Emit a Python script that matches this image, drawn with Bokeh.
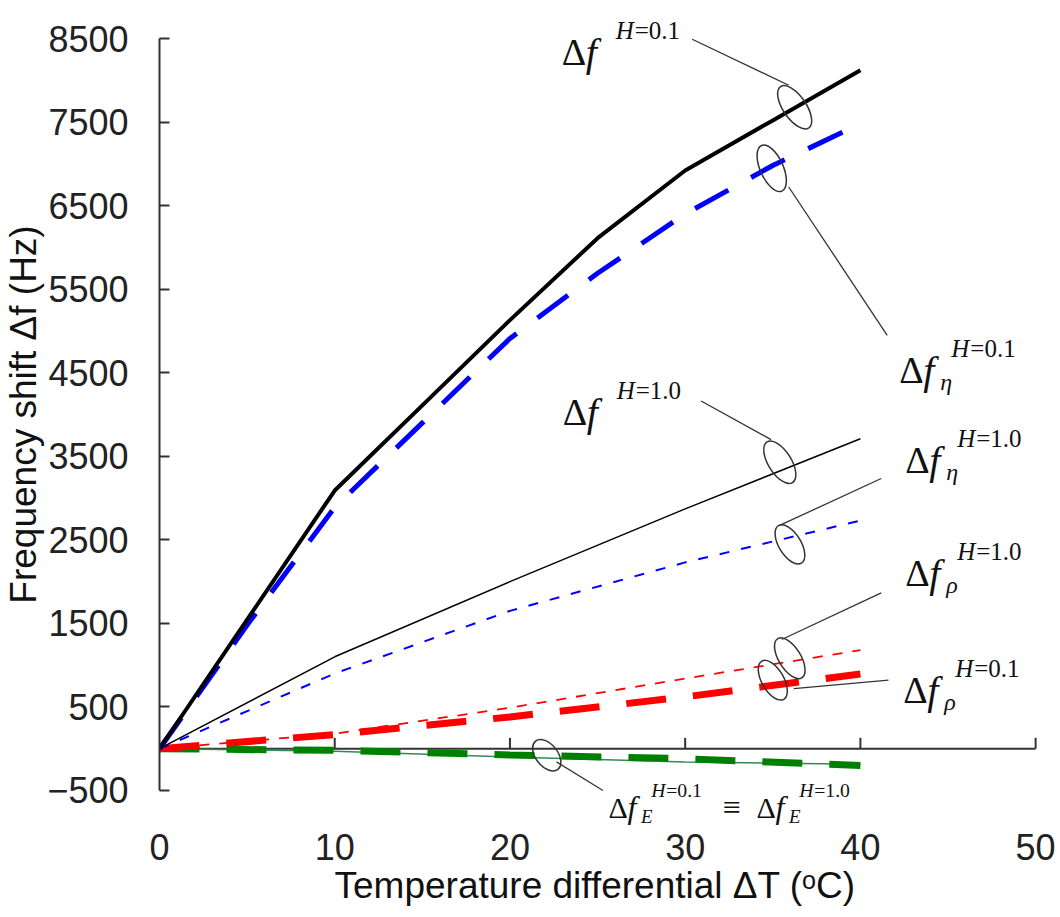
from bokeh.plotting import figure
from bokeh.models import Range1d, FixedTicker, Label, Title
from bokeh.embed import file_html
from bokeh.resources import INLINE

# ---------------- data ----------------
dT_fine = [0, 5, 10, 15, 20, 25, 30, 35, 40]
df_H01 = [0, 1545, 3090, 4110, 5130, 6110, 6920, 7520, 8120]
dfeta_H01 = [0, 1480, 2890, 3900, 4910, 5690, 6400, 6980, 7480]

dT = [0, 10, 20, 30, 40]
df_H10 = [0, 1100, 2000, 2870, 3710]
dfeta_H10 = [0, 900, 1650, 2230, 2730]
dfrho_H10 = [0, 180, 490, 840, 1180]
dfrho_H01 = [0, 170, 380, 620, 895]
dfE_H01 = [0, -20, -75, -120, -200]
dfE_H10 = [0, -30, -100, -160, -185]

x_ticks = [0, 10, 20, 30, 40, 50]
y_ticks = [-500, 500, 1500, 2500, 3500, 4500, 5500, 6500, 7500, 8500]

x_title = "Temperature differential \u0394T (\u1d52C)"
y_title = "Frequency shift \u0394f (Hz)"

# annotation rings (data coords)
ring_x = [36.25, 34.94, 35.40, 35.98, 35.97, 35.0, 22.1]
ring_y = [7677, 6947, 3429, 2445, 1083, 820, -78]
ring_w = [50, 50, 48, 44, 46, 44, 36]
ring_h = [23, 23, 23, 22, 22, 22, 22]
ring_a = [-0.97, -1.15, -1.01, -1.02, -1.02, -1.05, -0.9]

# leader lines (data coords)
lead_x0 = [30.40, 35.91, 30.91, 41.19, 41.19, 41.6, 22.66]
lead_y0 = [8491, 6723, 4162, 3234, 1865, 820, -158]
lead_x1 = [35.91, 41.53, 34.90, 35.42, 35.51, 36.2, 25.31]
lead_y1 = [7941, 4948, 3700, 2675, 1307, 720, -500]

# ---------------- figure ----------------
# the frame is extended a little beyond the axes so that the labels fit inside
y_pad = 455
x_pad = 1.42
p = figure(width=1060, height=917,
           x_range=Range1d(x_ticks[0], x_ticks[-1] + x_pad),
           y_range=Range1d(y_ticks[0] - y_pad, y_ticks[-1] + y_pad),
           output_backend="svg", toolbar_location=None,
           min_border_left=155, min_border_right=0,
           min_border_top=0, min_border_bottom=89,
           y_axis_label=y_title)
p.outline_line_color = None
p.grid.visible = False
p.background_fill_color = "white"
p.border_fill_color = "white"

SANS = "Liberation Sans"
SERIF = "Liberation Serif"

xa = p.xaxis[0]
xa.ticker = FixedTicker(ticks=x_ticks)
xa.axis_line_color = None
xa.major_tick_line_color = None
xa.minor_tick_line_color = None
xa.major_tick_out = 0
xa.major_tick_in = 0
xa.major_label_standoff = 5
xa.major_label_text_font = SANS
xa.major_label_text_font_size = "36px"
xa.major_label_text_color = "#222222"

p.add_layout(Title(text=x_title, align="left", offset=175, standoff=0,
                   text_font=SANS, text_font_size="37px", text_font_style="normal",
                   text_color="#111111"), "below")

ya = p.yaxis[0]
ya.ticker = FixedTicker(ticks=y_ticks)
ya.bounds = (y_ticks[0], y_ticks[-1])
ya.axis_line_color = "#333333"
ya.axis_line_width = 2
ya.major_tick_line_color = "#333333"
ya.major_tick_line_width = 2
ya.major_tick_in = 10
ya.major_tick_out = 0
ya.minor_tick_line_color = None
ya.major_label_standoff = 31
ya.major_label_overrides = {-500: "\u2212500"}
ya.major_label_text_font = SANS
ya.major_label_text_font_size = "36px"
ya.major_label_text_color = "#222222"
ya.axis_label_text_font = SANS
ya.axis_label_text_font_size = "37px"
ya.axis_label_text_font_style = "normal"
ya.axis_label_text_color = "#111111"
ya.axis_label_standoff = 0

# x axis line at y = 0 with upward ticks
p.segment(x0=[x_ticks[0]], y0=[0], x1=[x_ticks[-1]], y1=[0],
          line_color="#333333", line_width=2)
tick_len = 130
p.segment(x0=x_ticks[1:], y0=[0] * (len(x_ticks) - 1),
          x1=x_ticks[1:], y1=[tick_len] * (len(x_ticks) - 1),
          line_color="#333333", line_width=2)

# ---------------- series ----------------
p.line(dT, dfE_H10, line_color="#2E8B57", line_width=1.5)
p.line(dT, dfE_H01, line_color="#008000", line_width=7, line_dash="40 27")
p.line(dT, dfrho_H10, line_color="#FF0000", line_width=1.8, line_dash="10 10")
p.line(dT, dfrho_H01, line_color="#FF0000", line_width=7, line_dash="40 27")
p.line(dT, dfeta_H10, line_color="#0000FF", line_width=2, line_dash="10 12")
p.line(dT, df_H10, line_color="#000000", line_width=1.5)
p.line(dT_fine, dfeta_H01, line_color="#0000FF", line_width=5, line_dash="38 26")
p.line(dT_fine, df_H01, line_color="#000000", line_width=4)

# ---------------- annotations ----------------
p.ellipse(x=ring_x, y=ring_y, width=ring_w, height=ring_h, angle=ring_a,
          width_units="screen", height_units="screen",
          fill_color=None, line_color="#333333", line_width=1.5)
p.segment(x0=lead_x0, y0=lead_y0, x1=lead_x1, y1=lead_y1,
          line_color="#333333", line_width=1.3)


def math_label(x, y, sup_val, sub=None, size=38, sup_dx=52, dx0=0):
    k = size / 38.0
    out = []
    out.append(Label(x=x, y=y, x_offset=dx0, text="\u0394", text_font=SERIF,
                     text_font_size=f"{size}px", text_baseline="alphabetic",
                     text_color="#111111"))
    out.append(Label(x=x, y=y, x_offset=dx0 + 24 * k, text="f", text_font=SERIF,
                     text_font_style="italic", text_font_size=f"{size + 2}px",
                     text_baseline="alphabetic", text_color="#111111"))
    ss = 25 * k
    out.append(Label(x=x, y=y, x_offset=dx0 + sup_dx * k, y_offset=22 * k, text="H",
                     text_font=SERIF, text_font_style="italic",
                     text_font_size=f"{ss:.1f}px", text_baseline="alphabetic",
                     text_color="#111111"))
    out.append(Label(x=x, y=y, x_offset=dx0 + (sup_dx + 19) * k, y_offset=22 * k,
                     text=sup_val, text_font=SERIF, text_font_size=f"{ss:.1f}px",
                     text_baseline="alphabetic", text_color="#111111"))
    if sub:
        out.append(Label(x=x, y=y, x_offset=dx0 + 41 * k, y_offset=-12 * k, text=sub,
                         text_font=SERIF, text_font_style="italic",
                         text_font_size=f"{24 * k:.1f}px", text_baseline="alphabetic",
                         text_color="#111111"))
    for lab in out:
        p.add_layout(lab)


math_label(22.95, 8335, "=0.1", sup_dx=54)
math_label(42.22, 4530, "=0.1", sub="\u03b7")
math_label(23.01, 4027, "=1.0", sup_dx=54)
math_label(42.56, 3453, "=1.0", sub="\u03b7")
math_label(42.56, 2100, "=1.0", sub="\u03c1")
math_label(42.44, 700, "=0.1", sub="\u03c1")
# equivalence label for E
math_label(25.63, -700, "=0.1", sub="E", size=30, sup_dx=54)
p.add_layout(Label(x=25.63, y=-700, x_offset=114, text="\u2261", text_font=SERIF,
                   text_font_size="32px", text_baseline="alphabetic",
                   text_color="#111111"))
math_label(25.63, -700, "=1.0", sub="E", size=30, sup_dx=54, dx0=148)

open("out.html", "w").write(file_html(p, INLINE))
